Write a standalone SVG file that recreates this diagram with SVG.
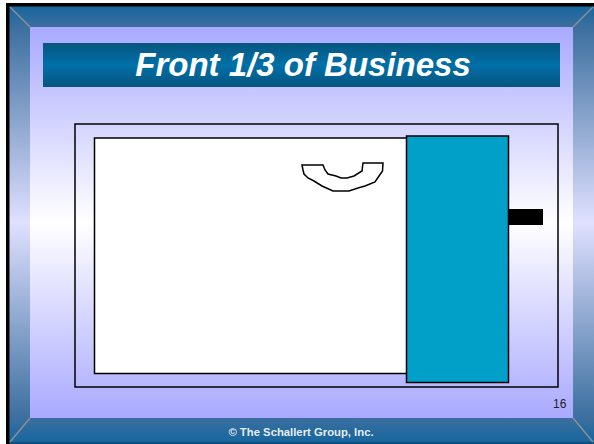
<svg xmlns="http://www.w3.org/2000/svg" width="594" height="444" viewBox="0 0 594 444">
<style>
.o{fill:none;stroke:#000;stroke-width:1.5}
.d{stroke:#8a8f94;stroke-width:1.5}
text{font-family:"Liberation Sans",Arial,sans-serif;font-weight:bold}
</style>
<defs>
<linearGradient id="side" x1="0" y1="0" x2="0" y2="1"><stop offset="0" stop-color="#3c6f9f"/><stop offset=".5" stop-color="#e0e0ff"/><stop offset="1" stop-color="#3c6f9f"/></linearGradient>
<linearGradient id="top" x1="0" y1="0" x2="0" y2="1"><stop offset="0" stop-color="#17669e"/><stop offset="1" stop-color="#3c6f9f"/></linearGradient>
<linearGradient id="bot" x1="0" y1="0" x2="0" y2="1"><stop offset="0" stop-color="#3c6f9f"/><stop offset="1" stop-color="#17669e"/></linearGradient>
<linearGradient id="panel" x1="0" y1="0" x2="0" y2="1"><stop offset="0" stop-color="#a9a9ff"/><stop offset=".5" stop-color="#ffffff"/><stop offset="1" stop-color="#a9a9ff"/></linearGradient>
<linearGradient id="bar" x1="0" y1="0" x2="0" y2="1"><stop offset="0" stop-color="#07557f"/><stop offset=".5" stop-color="#0070a8"/><stop offset="1" stop-color="#07557f"/></linearGradient>
</defs>
<rect width="594" height="444" fill="#fff"/>
<g id="frame">
<rect x="6" y="27" width="588" height="391" fill="url(#side)"/>
<rect x="6" y="6" width="588" height="21" fill="url(#top)"/>
<rect x="6" y="418" width="588" height="24" fill="url(#bot)"/>
<rect x="6" y="442" width="588" height="2" fill="#0f4f7d"/>
<rect x="6" y="3" width="588" height="3.500" fill="#000"/>
<rect x="6" y="3" width="3.500" height="441" fill="#000"/>
<line class="d" x1="10" y1="7" x2="30" y2="27"/>
<line class="d" x1="593" y1="7" x2="573" y2="27"/>
<line class="d" x1="10" y1="442" x2="30" y2="418"/>
<line class="d" x1="593" y1="442" x2="573" y2="418"/>
</g>
<rect id="panel-bg" x="30" y="27" width="543" height="391" fill="url(#panel)"/>
<g id="title">
<rect x="43" y="43" width="517" height="44" fill="url(#bar)"/>
<text x="303" y="76" font-size="33" font-style="italic" fill="#fff" text-anchor="middle">Front 1/3 of Business</text>
</g>
<g id="outer"><rect class="o" x="75" y="124" width="483" height="263"/></g>
<g id="inner"><rect x="94.500" y="138" width="313" height="235.500" fill="#fff" stroke="#000" stroke-width="1.500"/></g>
<g id="counter"><rect x="406.500" y="136" width="102" height="246.500" fill="#00a0c8" stroke="#000" stroke-width="1.500"/></g>
<g id="tab"><rect x="509" y="209" width="34" height="16" fill="#000"/></g>
<g id="desk"><path class="o" fill="#fff" d="M302 165H323L325 170L328 174L336 176L341 178H347L354 176L362 171L363 163H383L382.500 171L379 176L375 182L365 186L358 188L349 191H333L322 186L314 181L308 178L304 174L303 170Z"/></g>
<text id="page" x="553" y="408" font-size="12" style="font-weight:normal" fill="#222">16</text>
<text id="copy" x="301" y="436" font-size="11.300" fill="#fff" fill-opacity=".9" text-anchor="middle">© The Schallert Group, Inc.</text>
</svg>
